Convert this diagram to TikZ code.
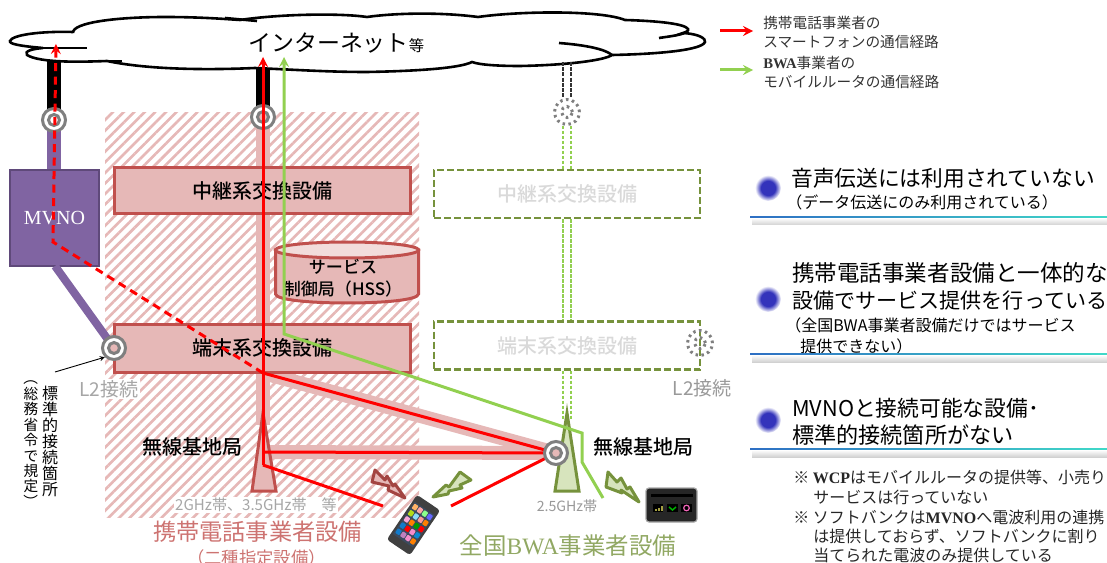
\documentclass[tikz,border=0pt]{standalone}
\usepackage{fontspec}
\setmainfont{Noto Sans CJK JP}
\newfontfamily\medfont{Noto Sans CJK JP Medium}
\newfontfamily\latinserif{Liberation Serif}
\usetikzlibrary{patterns.meta}
\newlength{\du}
\setlength{\du}{0.75pt}
\definecolor{linered}{HTML}{FF0000}
\definecolor{linegreen}{HTML}{92D050}
\definecolor{redfill}{HTML}{E6B8B7}
\definecolor{redtop}{HTML}{F2DCDB}
\definecolor{redbord}{HTML}{C0504D}
\definecolor{grnbord}{HTML}{76923C}
\definecolor{grnfill}{HTML}{D7E4BD}
\definecolor{ringgray}{HTML}{7F7F7F}
\definecolor{purpfill}{HTML}{8064A2}
\definecolor{purpbord}{HTML}{5F497A}
\definecolor{bulletblue}{HTML}{3333BB}
\definecolor{ruleblue}{HTML}{2E6FC4}
\definecolor{ruleteal}{HTML}{40D9C8}
\definecolor{phonescreen}{HTML}{3B4A5E}
\pgfdeclareradialshading{bulletblob}{\pgfpoint{0bp}{0bp}}{color(0bp)=(bulletblue); color(14bp)=(bulletblue); color(25bp)=(white); color(50bp)=(white)}
\newcommand{\txt}[1]{\fontsize{#1}{#1}\selectfont}
\tikzset{
  redbox/.style={draw=redbord,fill=redfill,line width=3\du,minimum width=296\du,minimum height=46\du,inner sep=0pt,font=\txt{15pt}\medfont},
  grnbox/.style={draw=grnbord,dash pattern=on 7\du off 3\du,line width=2.2\du,minimum width=266\du,minimum height=48\du,inner sep=0pt,text=black!15,font=\txt{15pt}\medfont},
  ringout/.style={circle,draw=ringgray,fill=white,line width=3\du,minimum size=23\du,inner sep=0pt},
  ringin/.style={circle,draw=ringgray,fill=#1,line width=3\du,minimum size=11\du,inner sep=0pt},
  dotout/.style={circle,draw=ringgray,line width=3\du,dash pattern=on 2.5\du off 3.5\du,minimum size=#1,inner sep=0pt},
  pinkline/.style={draw=redfill,line width=14\du},
  barline/.style={draw=black,line width=14\du},
  purpline/.style={draw=purpfill,line width=#1},
  redpath/.style={draw=linered,line width=3\du},
  grnpath/.style={draw=linegreen,line width=3\du},
  gdash/.style={draw=linegreen,line width=1.3\du,dash pattern=on 3.5\du off 1.5\du},
  kdash/.style={draw=black!80,line width=1.4\du,dash pattern=on 4\du off 1.2\du},
  tower/.style={line width=3\du,line join=miter},
  bolt/.style={line width=3\du,line join=round},
  cloudline/.style={draw=black,line width=2.6\du},
  lbl/.style={inner sep=0pt,anchor=west},
  bigtxt/.style={lbl,font=\txt{16.3pt}},
  smalltxt/.style={lbl,font=\txt{12pt}},
  legendtxt/.style={lbl,align=left,text=black!80,font=\fontsize{11}{14.4}\selectfont},
  notetxt/.style={lbl,text=black!85,font=\txt{12pt}},
  graytxt/.style={inner sep=1pt,text=black!35,fill=white},
  stationtxt/.style={inner sep=0pt,font=\txt{15pt}\medfont},
  sidetxt/.style={inner sep=0pt,align=center},
  rulebar/.style={left color=ruleblue,right color=ruleteal},
  ruleshadow/.style={bottom color=black!18,top color=white},
}
\begin{document}
\begin{tikzpicture}
\pgftransformxscale{1.000000}
\pgftransformyscale{-1.000000}
\useasboundingbox (0\du,0\du) rectangle (1107\du,563\du);
% hatched area
\fill[pattern={Lines[angle=45,distance=5.6pt,line width=2pt]},pattern color=redfill] (105\du,113\du) rectangle (419\du,517\du);
% fixed points
\coordinate (ringapos) at (54\du,120\du);
\coordinate (ringbpos) at (263\du,117\du);
\coordinate (ringcpos) at (114\du,348\du);
\coordinate (ringdpos) at (556\du,453\du);
\coordinate (splitred) at (263\du,373\du);
\coordinate (baseleft) at (263\du,465\du);
\coordinate (towerline) at (263\du,452\du);
\coordinate (phoneredl) at (383\du,506\du);
\coordinate (phoneredr) at (451\du,506\du);
\coordinate (cloudredl) at (56\du,44\du);
\coordinate (cloudredm) at (263\du,57\du);
\coordinate (cloudgrn) at (284\du,57\du);
\coordinate (cloudgap) at (567\du,62\du);
% thick links
\draw[barline] (ringapos) -- (54\du,58\du);
\draw[barline] (ringbpos) -- (263\du,60\du);
\draw[pinkline] (ringbpos) -- (263\du,425\du);
\draw[pinkline] (splitred) -- (ringdpos);
\draw[pinkline] (towerline) -- (ringdpos);
% cloud
\draw[cloudline,fill=white] (73\du,33\du) .. controls (72\du,22\du) and (120\du,17\du) .. (165\du,17\du)
  .. controls (200\du,17\du) and (225\du,19\du) .. (240\du,20\du)
  .. controls (280\du,14\du) and (340\du,13\du) .. (367\du,17\du)
  .. controls (395\du,13\du) and (440\du,12\du) .. (478\du,17\du)
  .. controls (520\du,11\du) and (600\du,10\du) .. (625\du,20\du)
  .. controls (660\du,21\du) and (685\du,24\du) .. (688\du,29\du)
  .. controls (689\du,31\du) and (686\du,32\du) .. (683\du,33\du)
  .. controls (700\du,34\du) and (706\du,39\du) .. (705\du,42\du)
  .. controls (702\du,50\du) and (660\du,54\du) .. (612\du,55\du)
  .. controls (605\du,60\du) and (570\du,65\du) .. (520\du,66\du)
  .. controls (500\du,66\du) and (480\du,65\du) .. (472\du,62\du)
  .. controls (460\du,68\du) and (420\du,71\du) .. (367\du,72\du)
  .. controls (330\du,72\du) and (300\du,70\du) .. (255\du,68\du)
  .. controls (210\du,70\du) and (150\du,70\du) .. (107\du,61\du)
  .. controls (80\du,62\du) and (40\du,63\du) .. (27\du,55\du)
  .. controls (24\du,51\du) and (32\du,49\du) .. (43\du,48\du)
  .. controls (20\du,46\du) and (9\du,44\du) .. (10\du,41\du)
  .. controls (12\du,35\du) and (40\du,31\du) .. (73\du,32\du);
\draw[cloudline] (43\du,48\du) -- (87\du,48\du);
\draw[cloudline] (105\du,61\du) -- (122\du,61\du);
\draw[cloudline] (225\du,18\du) -- (257\du,21\du);
\draw[cloudline] (659\du,38\du) .. controls (672\du,36\du) and (683\du,35\du) .. (688\du,31\du);
\draw[cloudline] (559\du,43\du) .. controls (585\du,45\du) and (605\du,49\du) .. (612\du,55\du);
\node[lbl] (netlabel) at (248\du,43\du) {\txt{17.2pt}インターネット\txt{11.5pt}等};
% equipment of the carrier
\node[redbox] (relayred) at (262\du,191\du) {中継系交換設備};
\node[redbox,minimum height=48\du] (termred) at (262\du,348\du) {端末系交換設備};
\draw[draw=redbord,fill=redfill,line width=3\du] (275.5\du,250\du) -- (275.5\du,294\du) .. controls (275.5\du,306\du) and (418.5\du,306\du) .. (418.5\du,294\du) -- (418.5\du,250\du) -- cycle;
\draw[draw=redbord,fill=redtop,line width=3\du] (347\du,250\du) ellipse [x radius=71.5\du,y radius=8\du];
\node[inner sep=0pt,align=center,font=\medfont\fontsize{12.8}{16.5}\selectfont] (hssdb) at (343\du,278\du) {サービス\\制御局（HSS）};
% equipment of the BWA carrier
\node[grnbox] (relaygrn) at (567\du,194\du) {中継系交換設備};
\node[grnbox] (termgrn) at (567\du,345.5\du) {端末系交換設備};
\node[dotout=25\du] (ringe) at (567\du,112\du) {};
\node[dotout=11\du] (ringei) at (ringe) {};
\node[dotout=25\du] (ringf) at (700\du,343\du) {};
\node[dotout=11\du] (ringfi) at (ringf) {};
\coordinate (towerrtop) at (567\du,420\du);
\foreach \dx in {-4,4} {
  \draw[kdash] ([xshift=\dx*\du]cloudgap) -- ([xshift=\dx*\du]ringe.north);
  \draw[gdash] ([xshift=\dx*\du]ringe.south) -- ([xshift=\dx*\du]relaygrn.north);
  \draw[gdash] ([xshift=\dx*\du]relaygrn.south) -- ([xshift=\dx*\du]termgrn.north);
  \draw[gdash] ([xshift=\dx*\du]termgrn.south) -- ([xshift=\dx*\du]towerrtop);
}
% MVNO
\node[draw=purpbord,fill=purpfill,line width=2.5\du,minimum width=89\du,minimum height=96\du,inner sep=0pt,text=white,font=\latinserif\fontsize{15}{15}\selectfont] (mvno) at (54.5\du,218\du) {MVNO};
\draw[purpline=14\du] (mvno.north-|ringapos) -- (ringapos);
\draw[purpline=8\du] (55\du,266\du) -- (ringcpos);
% towers
\draw[tower,draw=redbord,fill=redfill] (263\du,413\du) -- (276\du,491\du) -- (252\du,491\du) -- cycle;
\draw[tower,draw=grnbord,fill=grnfill] (567\du,413\du) -- (579\du,491\du) -- (555\du,491\du) -- cycle;
% rings below the lines
\node[ringout] (ringa) at (ringapos) {};
\node[ringin=white] (ringai) at (ringa) {};
\node[ringout] (ringb) at (ringbpos) {};
\node[ringin=redfill] (ringbi) at (ringb) {};
% routes
\draw[redpath,dash pattern=on 8\du off 5.5\du,-stealth] (splitred) -- (53\du,242\du) -- (cloudredl);
\draw[redpath,-stealth] (baseleft) -- (cloudredm);
\draw[redpath] (phoneredl) -- (baseleft);
\draw[redpath] (splitred) -- (ringdpos);
\draw[redpath] (towerline) -- (ringdpos);
\draw[redpath] (phoneredr) -- (ringdpos);
\draw[grnpath,-stealth] (603\du,498\du) -- (582\du,462\du) -- (582\du,433\du) -- (284\du,334\du) -- (cloudgrn);
% rings above the lines
\node[ringout] (ringc) at (ringcpos) {};
\node[ringin=redfill] (ringci) at (ringc) {};
\node[ringout] (ringd) at (ringdpos) {};
\node[ringin=redfill] (ringdi) at (ringd) {};
% pointer to the connection point
\coordinate (stdtail) at (55\du,372\du);
\draw[black,line width=0.9\du,-stealth] (stdtail) -- (ringc.south west);
% bolts
\draw[bolt,draw=redbord!85!black,fill=redfill] (375\du,470\du) -- (385\du,480\du) -- (387\du,476\du) -- (393\du,486\du) -- (395\du,484\du) -- (405\du,498\du) -- (388\du,490\du) -- (389\du,486\du) -- (372\du,482\du) -- cycle;
\draw[bolt,draw=grnbord,fill=grnfill] (433\du,497\du) -- (446\du,485\du) -- (449\du,487\du) -- (460\du,472\du) -- (471\du,480\du) -- (460\du,485\du) -- (462\du,488\du) -- (449\du,491\du) -- (448\du,494\du) -- cycle;
\draw[bolt,draw=grnbord,fill=grnfill] (608\du,472\du) -- (617\du,482\du) -- (621\du,478\du) -- (627\du,489\du) -- (630\du,487\du) -- (639\du,502\du) -- (621\du,490\du) -- (622\du,493\du) -- (606\du,487\du) -- cycle;
% phone
\begin{scope}[shift={(413.5\du,525\du)},rotate=34]
\fill[black!75,rounded corners=3\du] (-14\du,-27\du) rectangle (14\du,27\du);
\fill[phonescreen] (-12\du,-20\du) rectangle (12\du,19\du);
\foreach \col/\row/\icon in {0/0/orange!60,1/0/red!35,2/0/green!45,3/0/blue!60,0/1/yellow!70!green,1/1/cyan!45,2/1/red!40,3/1/orange,0/2/magenta!35,1/2/orange,2/2/green!60!black,3/2/red,0/3/cyan!60!blue,1/3/red,2/3/magenta!45,3/3/cyan!70!blue,0/4/cyan!60!blue,1/4/violet!50,2/4/magenta!45,3/4/orange} {
  \fill[\icon,rounded corners=0.8\du] ({(\col*5.8-11)*\du},{(\row*7.4-18.5)*\du}) rectangle ++(4.8\du,5.6\du);
}
\end{scope}
% router
\draw[draw=black!35,fill=black!85,line width=1.2\du,rounded corners=3\du] (646\du,488\du) rectangle (697\du,522\du);
\fill[black] (651\du,494\du) rectangle (693\du,497\du);
\fill[black] (653\du,504\du) rectangle (663\du,512\du);
\fill[black] (667\du,504\du) rectangle (678\du,512\du);
\fill[black] (681\du,504\du) rectangle (692\du,512\du);
\fill[yellow!60!black] (655\du,509\du) rectangle (657\du,511\du);
\fill[yellow!60!black] (658\du,507.5\du) rectangle (660\du,511\du);
\fill[yellow!60!black] (661\du,505.5\du) rectangle (662.5\du,511\du);
\draw[green!70!black,line width=1.5\du] (669\du,507\du) -- (672.5\du,510\du) -- (676\du,507\du);
\draw[magenta!60,line width=1.2\du] (686.5\du,508\du) circle (2.8\du);
% labels in the left part
\node[graytxt,font=\txt{14.3pt}] (l2left) at (109\du,389\du) {L2接続};
\node[graytxt,text=black!40,font=\txt{14.3pt}] (l2right) at (702.5\du,388\du) {L2接続};
\node[graytxt,font=\txt{11.3pt}] (bandred) at (256\du,505\du) {2GHz帯、3.5GHz帯　等};
\node[graytxt,text=black!40,font=\txt{10.6pt}] (bandgrn) at (567\du,506\du) {2.5GHz帯};
\node[stationtxt] (stationl) at (192.5\du,447\du) {無線基地局};
\node[stationtxt] (stationr) at (643.5\du,447\du) {無線基地局};
\node[inner sep=0pt,text=redbord!80,font=\txt{17.4pt}] (ownerred) at (257.5\du,532\du) {携帯電話事業者設備};
\node[inner sep=0pt,text=redbord!80,font=\txt{13pt}] (ownerreds) at (256.5\du,558\du) {（二種指定設備）};
\node[inner sep=0pt,text=grnbord!80,font=\txt{17.6pt}] (ownergrn) at (568\du,546\du) {全国{\latinserif BWA}事業者設備};
\node[sidetxt,font=\fontsize{12}{12}\selectfont] (stdpoint) at (50\du,441\du) {標\\準\\的\\接\\続\\箇\\所};
\node[sidetxt,font=\fontsize{11}{11.6}\selectfont] (stdrule) at (31\du,440\du) {\rotatebox[origin=c]{-90}{（}\\総\\務\\省\\令\\で\\規\\定\\\rotatebox[origin=c]{-90}{）}};
% legend
\coordinate (legendred) at (720\du,31\du);
\coordinate (legendgrn) at (720\du,70\du);
\draw[redpath,-stealth] (legendred) -- ++(33\du,0\du);
\draw[grnpath,-stealth] (legendgrn) -- ++(33\du,0\du);
\node[legendtxt] (legendredt) at (763\du,32.5\du) {携帯電話事業者の\\スマートフォンの通信経路};
\node[legendtxt] (legendgrnt) at (763\du,72.5\du) {{\latinserif\bfseries BWA}事業者の\\モバイルルータの通信経路};
% right column
\shade[shading=bulletblob] (768\du,188\du) circle (13\du);
\shade[shading=bulletblob] (768\du,299\du) circle (13\du);
\shade[shading=bulletblob] (768\du,420\du) circle (13\du);
\node[bigtxt] (voicea) at (791\du,178\du) {音声伝送には利用されていない};
\node[smalltxt] (voiceb) at (786\du,202\du) {（データ伝送にのみ利用されている）};
\node[bigtxt,font=\txt{16.9pt}] (unita) at (792\du,273\du) {携帯電話事業者設備と一体的な};
\node[bigtxt,font=\txt{15.8pt}] (unitb) at (792\du,301\du) {設備でサービス提供を行っている};
\node[smalltxt] (unitc) at (785\du,325\du) {（全国BWA事業者設備だけではサービス};
\node[smalltxt] (unitd) at (800\du,346\du) {提供できない）};
\node[bigtxt] (mvnoa) at (792\du,408\du) {MVNOと接続可能な設備･};
\node[bigtxt,font=\txt{16.6pt}] (mvnob) at (792\du,435\du) {標準的接続箇所がない};
\foreach \ruley in {217,354,449} {
  \shade[ruleshadow] (752\du,{(\ruley+1)*\du}) rectangle (1107\du,{(\ruley+8)*\du});
  \shade[rulebar] (750\du,{(\ruley-0.8)*\du}) rectangle (1107\du,{(\ruley+0.8)*\du});
}
\node[notetxt] (notea) at (793\du,477\du) {※ {\latinserif\bfseries WCP}はモバイルルータの提供等、小売り};
\node[notetxt] (noteb) at (813\du,497\du) {サービスは行っていない};
\node[notetxt] (notec) at (793\du,517\du) {※ ソフトバンクは{\latinserif\bfseries MVNO}へ電波利用の連携};
\node[notetxt] (noted) at (813\du,536\du) {は提供しておらず、ソフトバンクに割り};
\node[notetxt] (notee) at (813\du,555\du) {当てられた電波のみ提供している};
\end{tikzpicture}
\end{document}
